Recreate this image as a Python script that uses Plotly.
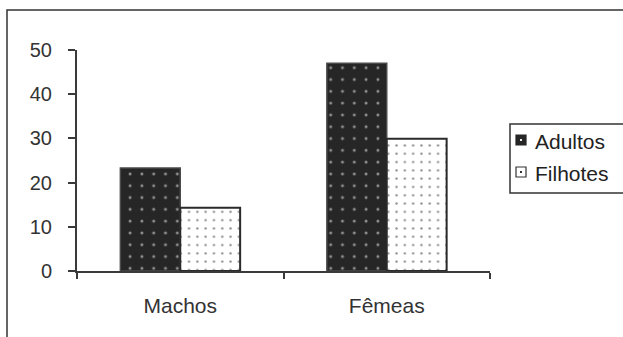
import plotly.graph_objects as go

categories = ["Machos", "Fêmeas"]
series_names = ["Adultos", "Filhotes"]
adultos = [23.3, 47.0]
filhotes = [14.3, 29.9]
y_ticks = [0, 10, 20, 30, 40, 50]

W, H = 623, 337
L, R, T, B = 77, 133, 50, 66
pw, ph = W - L - R, H - T - B


def px_x(p):
    return (p - L) / pw


def px_y(p):
    return (H - B - p) / ph


FONT = "Liberation Sans, Arial, sans-serif"
AX = "#3a3a3a"

fig = go.Figure()
fig.add_trace(go.Bar(
    x=categories, y=adultos, name=series_names[0], showlegend=False,
    marker=dict(color="#262626", line=dict(color="#4a4a4a", width=1.5),
                pattern=dict(shape=".", fgcolor="#ffffff", bgcolor="#262626",
                             size=11.8, solidity=0.05)),
))
fig.add_trace(go.Bar(
    x=categories, y=filhotes, name=series_names[1], showlegend=False,
    marker=dict(color="white", line=dict(color="#2a2a2a", width=2),
                pattern=dict(shape=".", fgcolor="#222222", bgcolor="white",
                             size=8.3, solidity=0.07)),
))

fig.update_layout(
    width=W, height=H,
    margin=dict(l=L, r=R, t=T, b=B, autoexpand=False),
    paper_bgcolor="white", plot_bgcolor="white",
    barmode="group", bargap=0.42, bargroupgap=0,
    font=dict(family=FONT, size=20, color="#333333"),
    showlegend=False,
    xaxis=dict(type="category", showline=True, linecolor=AX, linewidth=2,
               ticks="outside", tickson="boundaries", ticklen=6, tickcolor=AX,
               tickwidth=2, showgrid=False, ticklabelstandoff=15,
               tickfont=dict(family=FONT, size=21, color="#333333")),
    yaxis=dict(range=[0, 50], tickvals=y_ticks, showline=True, linecolor=AX,
               linewidth=2, ticks="outside", ticklen=7, tickcolor=AX,
               tickwidth=2, showgrid=False, zeroline=False, ticklabelstandoff=12,
               tickfont=dict(family=FONT, size=20, color="#333333")),
)

# outer chart border
fig.add_shape(type="rect", xref="paper", yref="paper",
              x0=px_x(7), x1=px_x(640), y0=px_y(350), y1=px_y(10),
              line=dict(color="#333333", width=1.5), fillcolor="rgba(0,0,0,0)", layer="below")

# legend box
fig.add_shape(type="rect", xref="paper", yref="paper",
              x0=px_x(510), x1=px_x(640), y0=px_y(193), y1=px_y(124),
              line=dict(color="#333333", width=1.5), fillcolor="white", layer="above")

# legend symbols
legend_rows = [(140, "#262626", "#262626", "#f0f0f0"), (172, "white", "#333333", "#333333")]
for (cy, fill, edge, dot), name in zip(legend_rows, series_names):
    fig.add_shape(type="rect", xref="paper", yref="paper",
                  x0=px_x(516), x1=px_x(526), y0=px_y(cy + 5), y1=px_y(cy - 5),
                  line=dict(color=edge, width=1.2), fillcolor=fill, layer="above")
    fig.add_shape(type="rect", xref="paper", yref="paper",
                  x0=px_x(520), x1=px_x(522), y0=px_y(cy + 1), y1=px_y(cy - 1),
                  line=dict(width=0), fillcolor=dot, layer="above")
    fig.add_annotation(xref="paper", yref="paper", x=px_x(533), y=px_y(cy + 1),
                       text=name, showarrow=False, xanchor="left", yanchor="middle",
                       font=dict(family=FONT, size=21, color="#222222"))

fig.write_html("out.html", config={"displayModeBar": False},
               post_script="document.body.style.margin='0';document.body.style.overflow='hidden';")
